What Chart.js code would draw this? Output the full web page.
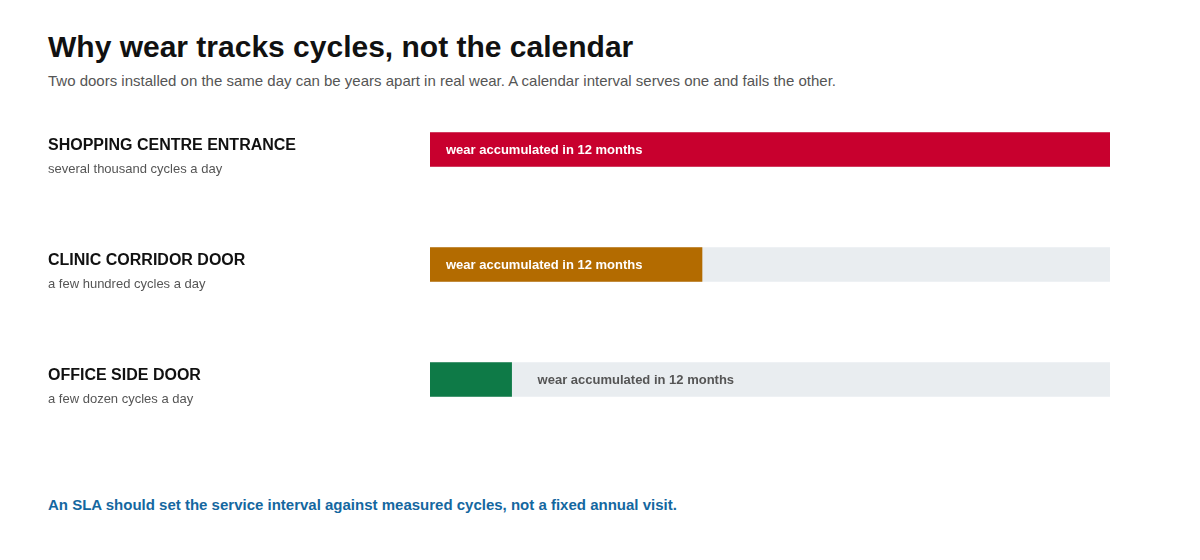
<!DOCTYPE html>
<html>
<head>
<meta charset="utf-8">
<script src="https://cdn.jsdelivr.net/npm/chart.js@4"></script>
<style>
  html, body { margin: 0; padding: 0; background: #fff; }
  body { width: 1200px; height: 560px; position: relative; overflow: hidden;
         font-family: "Liberation Sans", Arial, Helvetica, sans-serif; }
  h1 { position: absolute; left: 48px; top: 30px; margin: 0; font-size: 30px; font-weight: bold; color: #111; }
  .sub { position: absolute; left: 48px; top: 72px; margin: 0; font-size: 15px; color: #555; }
  .note { position: absolute; left: 48px; top: 496px; margin: 0; font-size: 15px; font-weight: bold; color: #1467a0; }
  .wrap { position: absolute; left: 0; top: 92px; width: 1200px; height: 345px; }
</style>
</head>
<body>
<h1>Why wear tracks cycles, not the calendar</h1>
<p class="sub">Two doors installed on the same day can be years apart in real wear. A calendar interval serves one and fails the other.</p>
<div class="wrap"><canvas id="chart"></canvas></div>
<p class="note">An SLA should set the service interval against measured cycles, not a fixed annual visit.</p>
<script>
const doors = ['SHOPPING CENTRE ENTRANCE', 'CLINIC CORRIDOR DOOR', 'OFFICE SIDE DOOR'];
const usage = ['several thousand cycles a day', 'a few hundred cycles a day', 'a few dozen cycles a day'];
const wear = [100, 40, 12];
const track = [100, 100, 100];
const barColors = ['#c8002e', '#b36b00', '#0e7a47'];
const barText = 'wear accumulated in 12 months';

const FONT = '"Liberation Sans", Arial, Helvetica, sans-serif';

// row labels on the left and the text inside / after each bar
const labelPlugin = {
    id: 'labels',
    afterDatasetsDraw(chart) {
        const ctx = chart.ctx;
        const yScale = chart.scales.y;
        const bars = chart.getDatasetMeta(0).data;
        ctx.save();
        ctx.textBaseline = 'middle';
        doors.forEach((name, i) => {
            const y = yScale.getPixelForValue(i);
            ctx.textAlign = 'left';
            ctx.fillStyle = '#111';
            ctx.font = 'bold 16px ' + FONT;
            ctx.fillText(name, 48, y - 4);
            ctx.fillStyle = '#555';
            ctx.font = '13px ' + FONT;
            ctx.fillText(usage[i], 48, y + 20);

            const bar = bars[i];
            ctx.font = 'bold 13px ' + FONT;
            const w = ctx.measureText(barText).width;
            if (bar.x - bar.base > w + 32) {
                ctx.fillStyle = '#fff';
                ctx.fillText(barText, bar.base + 16, y + 1);
            } else {
                ctx.fillStyle = '#555';
                ctx.fillText(barText, bar.x + 26, y + 1);
            }
        });
        ctx.restore();
    }
};

new Chart(document.getElementById('chart'), {
    type: 'bar',
    data: {
        labels: doors,
        datasets: [
            {
                data: wear,
                backgroundColor: barColors,
                barThickness: 34,
                grouped: false,
                order: 1,
            },
            {
                data: track,
                backgroundColor: '#e9edf0',
                barThickness: 34,
                grouped: false,
                order: 2,
            },
        ],
    },
    options: {
        indexAxis: 'y',
        responsive: true,
        maintainAspectRatio: false,
        animation: false,
        layout: { padding: { left: 430, right: 90, top: 0, bottom: 0 } },
        scales: {
            x: { display: false, min: 0, max: 100 },
            y: { display: false },
        },
        plugins: {
            legend: { display: false },
            tooltip: { enabled: false },
        },
    },
    plugins: [labelPlugin],
});
</script>
</body>
</html>
